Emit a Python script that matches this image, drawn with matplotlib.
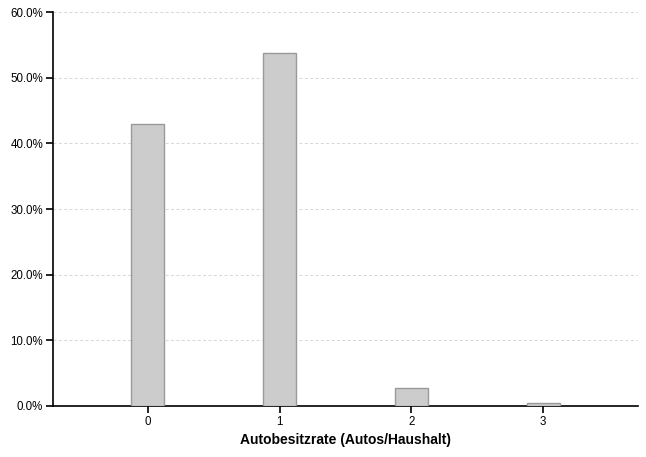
import matplotlib
matplotlib.use('Agg')
import matplotlib.pyplot as plt
from matplotlib.ticker import PercentFormatter

plt.rcParams['font.family'] = ['Liberation Sans', 'DejaVu Sans']

# Anteil der Haushalte je Anzahl Autos (in %)
categories = [0, 1, 2, 3]
shares = [43.0, 53.7, 2.8, 0.5]

fig = plt.figure(figsize=(6.46, 4.57), dpi=100)
ax = fig.add_axes([0.082, 0.1116, 0.9056, 0.8621])

ax.bar(categories, shares, width=0.25, color='#cccccc', edgecolor='#999999', linewidth=1, zorder=3)

ax.set_xlim(-0.72, 3.72)
ax.set_ylim(0, 60)
ax.set_xticks(categories)
ax.set_yticks([0, 10, 20, 30, 40, 50, 60])
ax.yaxis.set_major_formatter(PercentFormatter(decimals=1))

ax.grid(axis='y', linestyle=(0, (3, 2.5)), color='#d6d6d6', linewidth=0.7, zorder=0)
ax.spines['top'].set_visible(False)
ax.spines['right'].set_visible(False)
ax.spines['left'].set_linewidth(1.2)
ax.spines['bottom'].set_linewidth(1.2)
ax.tick_params(axis='both', labelsize=8.3, length=5, width=1.2, direction='out', pad=2)

ax.set_xlabel('Autobesitzrate (Autos/Haushalt)', fontsize=10, fontweight='bold', labelpad=4)

fig.savefig('out.png', dpi=100)
